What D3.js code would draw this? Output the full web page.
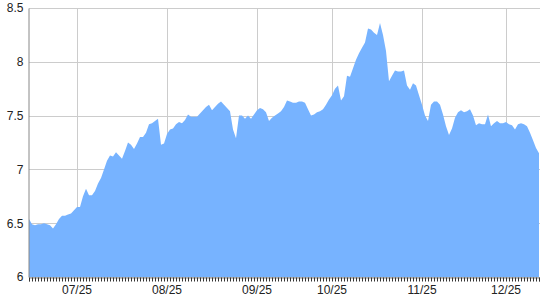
<!DOCTYPE html>
<html>
<head>
<meta charset="utf-8">
<script src="https://cdn.jsdelivr.net/npm/d3@7"></script>
<style>
  body { margin: 0; background: #fff; }
  svg { display: block; font-family: "Liberation Sans", Arial, sans-serif; }
</style>
</head>
<body>
<svg id="chart"></svg>
<script>
var width = 540, height = 300
var margin = {top: 8, right: 1, bottom: 23, left: 29}

// one value per data point (category axis)
var values = [
  6.54, 6.49, 6.48, 6.49, 6.49, 6.50, 6.49, 6.48, 6.45, 6.49,
  6.54, 6.57, 6.57, 6.58, 6.59, 6.62, 6.65, 6.65, 6.75, 6.82,
  6.76, 6.76, 6.80, 6.87, 6.92, 7.00, 7.08, 7.13, 7.12, 7.16,
  7.13, 7.10, 7.17, 7.25, 7.23, 7.19, 7.24, 7.30, 7.30, 7.34,
  7.42, 7.43, 7.45, 7.47, 7.23, 7.24, 7.33, 7.37, 7.38, 7.42,
  7.44, 7.43, 7.46, 7.51, 7.49, 7.49, 7.49, 7.52, 7.55, 7.58,
  7.60, 7.55, 7.58, 7.61, 7.63, 7.60, 7.57, 7.54, 7.37, 7.29,
  7.50, 7.50, 7.47, 7.50, 7.47, 7.51, 7.55, 7.57, 7.56, 7.53,
  7.45, 7.48, 7.50, 7.52, 7.54, 7.58, 7.64, 7.63, 7.62, 7.62,
  7.63, 7.63, 7.62, 7.56, 7.50, 7.51, 7.53, 7.54, 7.56, 7.60,
  7.65, 7.69, 7.75, 7.78, 7.64, 7.68, 7.87, 7.86, 7.94, 8.02,
  8.08, 8.13, 8.18, 8.31, 8.30, 8.27, 8.25, 8.36, 8.25, 8.10,
  7.82, 7.87, 7.92, 7.91, 7.91, 7.92, 7.78, 7.74, 7.80, 7.78,
  7.69, 7.60, 7.50, 7.45, 7.60, 7.63, 7.63, 7.60, 7.51, 7.40,
  7.32, 7.38, 7.48, 7.53, 7.55, 7.53, 7.54, 7.56, 7.50, 7.41,
  7.43, 7.42, 7.42, 7.51, 7.40, 7.43, 7.45, 7.43, 7.43, 7.44,
  7.42, 7.41, 7.37, 7.42, 7.43, 7.42, 7.40, 7.34, 7.27, 7.20,
  7.15
]

// month labels and the point index where each month starts
var monthLabels = ["07/25", "08/25", "09/25", "10/25", "11/25", "12/25"]
var monthIndex = [16, 46, 76, 101, 131, 159]

var yTicks = [6, 6.5, 7, 7.5, 8, 8.5]

var svg = d3.select("#chart").attr("width", width).attr("height", height)

var x = d3.scaleLinear()
    .domain([0, values.length - 1])
    .range([margin.left, width - margin.right])

var y = d3.scaleLinear()
    .domain([6, 8.5])
    .range([height - margin.bottom, margin.top])

// grid
svg.append("g")
    .selectAll("line")
    .data(yTicks)
    .enter()
    .append("line")
    .attr("x1", margin.left).attr("x2", width)
    .attr("y1", d => Math.round(y(d)) + 0.5).attr("y2", d => Math.round(y(d)) + 0.5)
    .attr("stroke", "#cccccc")

svg.append("g")
    .selectAll("line")
    .data(monthIndex)
    .enter()
    .append("line")
    .attr("x1", d => Math.round(x(d)) + 0.5).attr("x2", d => Math.round(x(d)) + 0.5)
    .attr("y1", margin.top).attr("y2", height - margin.bottom)
    .attr("stroke", "#cccccc")

// area
var area = d3.area()
    .x((d, i) => x(i))
    .y0(y(6))
    .y1(d => y(d))

svg.append("path")
    .datum(values)
    .attr("fill", "#77b3ff")
    .attr("d", area)

// x axis: a tick for each point
var xAxis = d3.axisBottom(x)
    .tickValues(d3.range(values.length))
    .tickSize(4)
    .tickFormat("")

var gx = svg.append("g")
    .attr("transform", "translate(0," + (Math.round(y(6)) + 0.5) + ")")
    .call(xAxis)
gx.select(".domain").attr("stroke", "#888888")
gx.selectAll(".tick line").attr("stroke", "#333333")

svg.append("g")
    .selectAll("text")
    .data(monthIndex)
    .enter()
    .append("text")
    .attr("x", d => x(d))
    .attr("y", height - 6)
    .attr("text-anchor", "middle")
    .style("font-size", "12px")
    .attr("fill", "#222")
    .text((d, i) => monthLabels[i])

// y axis
var yAxis = d3.axisLeft(y)
    .tickValues(yTicks)
    .tickSize(0)
    .tickPadding(5)
    .tickFormat(d3.format("~g"))

var gy = svg.append("g")
    .attr("transform", "translate(" + (margin.left - 0.5) + ",0)")
    .call(yAxis)
gy.select(".domain").attr("stroke", "#888888")
gy.selectAll("text").style("font-size", "12px").attr("fill", "#222")
</script>
</body>
</html>
